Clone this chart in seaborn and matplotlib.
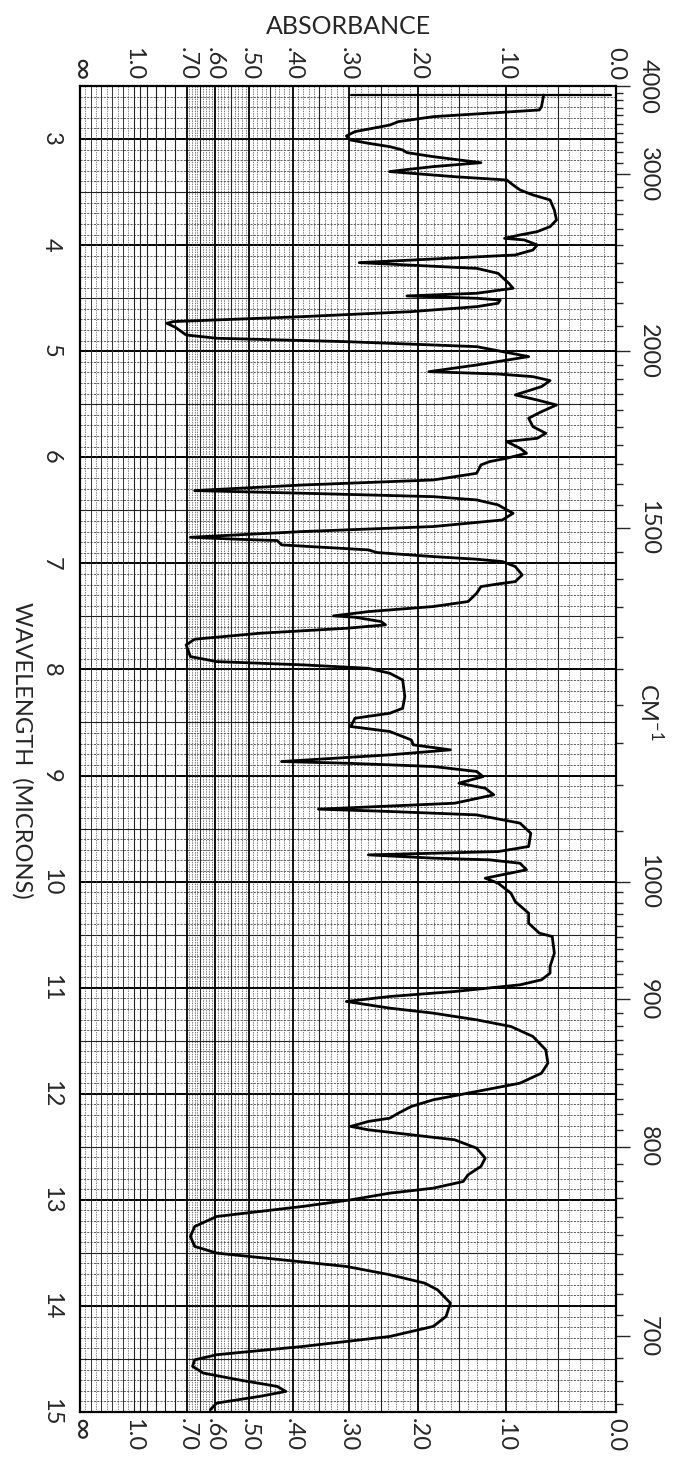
import numpy as np
import pandas as pd
import matplotlib
matplotlib.use("Agg")
import matplotlib.pyplot as plt
import seaborn as sns

# ---------------- data ----------------
wavelength_um = [
    2.585, 2.695, 2.726, 2.789, 2.836, 2.868, 2.899, 2.930, 2.971, 3.009,
    3.040, 3.072, 3.103, 3.128, 3.166, 3.197, 3.223, 3.260, 3.292, 3.307,
    3.323, 3.355, 3.386, 3.433, 3.480, 3.527, 3.574, 3.669, 3.763, 3.826,
    3.873, 3.904, 3.936, 3.951, 3.999, 4.046, 4.093, 4.165, 4.219, 4.266,
    4.360, 4.407, 4.454, 4.479, 4.501, 4.517, 4.548, 4.580, 4.627, 4.674,
    4.721, 4.737, 4.775, 4.847, 4.878, 4.910, 4.957, 5.051, 5.130, 5.193,
    5.215, 5.240, 5.277, 5.334, 5.412, 5.460, 5.507, 5.570, 5.632, 5.711,
    5.774, 5.821, 5.852, 5.915, 5.962, 6.009, 6.041, 6.072, 6.151, 6.214,
    6.261, 6.314, 6.339, 6.371, 6.402, 6.449, 6.528, 6.591, 6.653, 6.700,
    6.754, 6.773, 6.785, 6.826, 6.873, 6.898, 6.936, 6.961, 6.983, 7.030,
    7.109, 7.172, 7.194, 7.219, 7.282, 7.360, 7.407, 7.455, 7.495, 7.508,
    7.549, 7.580, 7.612, 7.659, 7.715, 7.769, 7.879, 7.926, 7.957, 7.989,
    8.036, 8.099, 8.256, 8.366, 8.413, 8.460, 8.538, 8.585, 8.664, 8.711,
    8.758, 8.805, 8.868, 8.884, 8.915, 8.962, 9.010, 9.072, 9.120, 9.182,
    9.261, 9.317, 9.339, 9.371, 9.449, 9.544, 9.669, 9.717, 9.748, 9.779,
    9.795, 9.827, 9.889, 9.968, 10.015, 10.109, 10.188, 10.298, 10.392, 10.486,
    10.518, 10.675, 10.800, 10.863, 10.926, 10.973, 11.036, 11.083, 11.130, 11.162,
    11.193, 11.240, 11.303, 11.366, 11.460, 11.586, 11.711, 11.806, 11.900, 11.979,
    12.057, 12.120, 12.183, 12.230, 12.261, 12.308, 12.340, 12.387, 12.434, 12.513,
    12.607, 12.685, 12.764, 12.827, 12.890, 12.937, 13.000, 13.062, 13.157, 13.251,
    13.345, 13.439, 13.502, 13.565, 13.628, 13.706, 13.785, 13.848, 13.973, 14.099,
    14.193, 14.288, 14.382, 14.460, 14.508, 14.570, 14.633, 14.696, 14.759, 14.806,
    14.853, 14.916, 14.979,
]
transmittance_pct = [
    86.5, 86.1, 85.7, 65.9, 59.4, 57.8, 54.6, 51.3, 49.7, 50.5,
    53.8, 57.8, 60.2, 61.0, 65.9, 70.7, 74.8, 65.9, 60.2, 57.8,
    61.8, 69.9, 79.6, 80.8, 82.1, 84.5, 87.7, 88.5, 88.9, 87.7,
    85.3, 82.1, 79.2, 82.9, 85.3, 84.5, 81.2, 52.1, 74.0, 78.0,
    80.0, 80.8, 74.0, 61.0, 74.0, 78.4, 78.0, 74.0, 61.8, 41.6,
    17.4, 16.2, 17.8, 19.8, 25.5, 49.7, 74.0, 83.7, 74.0, 65.1,
    78.0, 84.5, 87.7, 86.1, 81.2, 85.3, 88.9, 86.1, 83.7, 84.5,
    86.9, 85.3, 79.6, 82.1, 83.3, 79.6, 76.4, 74.8, 74.0, 65.9,
    41.6, 21.4, 41.6, 65.9, 74.0, 78.0, 80.8, 78.8, 65.9, 41.6,
    20.6, 29.5, 36.8, 37.6, 53.8, 55.4, 65.9, 74.0, 78.8, 81.2,
    82.5, 81.2, 78.0, 74.8, 74.0, 72.4, 65.9, 53.8, 47.3, 51.3,
    56.2, 57.0, 49.7, 33.5, 21.4, 19.8, 20.6, 25.5, 41.6, 53.8,
    57.8, 60.2, 60.6, 60.2, 57.8, 51.3, 50.5, 57.8, 61.8, 62.2,
    69.1, 57.8, 37.6, 49.7, 65.9, 74.0, 75.2, 70.7, 75.6, 77.2,
    69.9, 44.5, 57.8, 74.0, 82.1, 84.1, 83.7, 78.0, 53.8, 65.9,
    76.4, 82.1, 83.3, 75.6, 78.0, 80.4, 81.2, 83.7, 83.7, 85.7,
    88.1, 88.5, 87.7, 87.7, 86.1, 82.1, 69.9, 57.8, 49.7, 53.8,
    57.8, 65.9, 74.0, 80.4, 84.5, 86.9, 87.3, 86.1, 82.1, 74.0,
    65.9, 61.8, 59.4, 57.8, 53.8, 50.5, 53.8, 61.8, 69.9, 74.0,
    75.6, 74.8, 72.4, 71.5, 65.9, 57.8, 50.5, 41.6, 25.5, 21.4,
    20.6, 21.4, 25.5, 37.6, 49.7, 57.8, 64.3, 66.7, 69.1, 68.3,
    65.9, 57.8, 41.6, 25.5, 21.4, 21.0, 23.0, 29.5, 36.8, 38.4,
    33.5, 25.5, 24.3,
]
# recorder pen stroke at the start of the trace
pen_start_um = [2.585, 2.585]
pen_start_pct = [50.5, 99.0]

absorbance_tick_values = [np.inf, 1.0, 0.70, 0.60, 0.50, 0.40, 0.30, 0.20, 0.10, 0.0]
absorbance_tick_labels = ["\u221e", "1.0", ".70", ".60", ".50", ".40", ".30", ".20", ".10", "0.0"]
micron_ticks = list(range(3, 16))
wavenumber_ticks = [4000, 3000, 2000, 1500, 1000, 900, 800, 700]
wavenumber_minor = (list(range(3900, 2000, -100)) + list(range(1950, 1000, -50))
                    + list(range(990, 660, -10)))

# ---------------- style ----------------
sns.set_style("white")
plt.rcParams["font.family"] = ["Lato", "DejaVu Sans"]
FS = 17

fig = plt.figure(figsize=(6.79, 14.69), dpi=100)
ax = fig.add_axes([80 / 679, 1 - 1412 / 1469, 536 / 679, 1326 / 1469])
ax.set_xlim(0, 1)
ax.set_ylim(15, 2.5)

# ---- chart-paper grid: constant wavelength lines ----
for k in range(26, 150):
    lam = k / 10
    if k % 10 == 0:
        ax.axhline(lam, color="black", lw=1.4, zorder=1)
    elif k % 5 == 0:
        ax.axhline(lam, color="#222222", lw=0.8, zorder=1)
    else:
        ax.axhline(lam, color="#444444", lw=0.6, ls=(0, (2.5, 1.5)), zorder=1)

# ---- constant absorbance lines ----
A_lines = [i / 100 for i in range(1, 70)] + [0.70, 0.75, 0.80, 0.85, 0.90, 0.95, 1.0]
for A in A_lines:
    T = 10 ** (-A)
    a100 = int(round(A * 100))
    if a100 % 10 == 0 and A <= 0.7:
        ax.axvline(T, color="black", lw=1.3, zorder=1)
    elif a100 % 5 == 0:
        ax.axvline(T, color="#222222", lw=0.8, zorder=1)
    else:
        ax.axvline(T, color="#444444", lw=0.5, ls=(0, (2, 1.5)), zorder=1)
for T in [0.02, 0.04, 0.06, 0.08]:
    ax.axvline(T, color="#333333", lw=0.7, zorder=1)
for T in [0.01, 0.03, 0.05, 0.07, 0.09]:
    ax.axvline(T, color="#555555", lw=0.5, ls=(0, (2, 1.5)), zorder=1)

# ---- spectrum ----
df = pd.DataFrame({"wavelength": wavelength_um,
                   "T": np.array(transmittance_pct) / 100.0})
sns.lineplot(data=df, x="T", y="wavelength", sort=False, estimator=None,
             color="black", lw=2.0, ax=ax, zorder=3)
pen = pd.DataFrame({"wavelength": pen_start_um, "T": np.array(pen_start_pct) / 100.0})
sns.lineplot(data=pen, x="T", y="wavelength", sort=False, estimator=None,
             color="black", lw=1.6, ax=ax, zorder=3)
ax.set_xlabel("")
ax.set_ylabel("")

for s in ax.spines.values():
    s.set_color("black")
    s.set_linewidth(1.6)
    s.set_zorder(4)

# ---- absorbance tick labels, top and bottom ----
ax.set_xticks([10 ** (-a) if np.isfinite(a) else 0.0 for a in absorbance_tick_values])
ax.set_xticklabels(absorbance_tick_labels)
ax.tick_params(axis="x", length=0, labelsize=FS, labelrotation=270,
               top=False, bottom=False, labeltop=True, labelbottom=True, pad=4)
for lab in ax.get_xticklabels() + ax.xaxis.get_ticklabels(which="major"):
    if lab.get_text() == "\u221e":
        lab.set_fontsize(FS + 5)
for t in ax.xaxis.get_major_ticks():
    if t.label1.get_text() == "\u221e":
        t.label1.set_fontsize(FS + 5)
        t.label2.set_fontsize(FS + 5)

# ---- wavelength labels, left ----
ax.set_yticks(micron_ticks)
ax.set_yticklabels([str(m) for m in micron_ticks], rotation=270, va="center")
ax.tick_params(axis="y", length=0, labelsize=FS, left=False, right=False,
               labelleft=True, labelright=False, pad=13)


# ---- wavenumber scale, right ----
def lam_to_wn(x):
    x = np.asarray(x, dtype=float)
    with np.errstate(divide="ignore", invalid="ignore"):
        return 1e4 / x


sec = ax.secondary_yaxis("right", functions=(lam_to_wn, lam_to_wn))
sec.set_yticks(wavenumber_ticks)
sec.set_yticklabels([str(w) for w in wavenumber_ticks], rotation=270, va="center")
sec.set_yticks(wavenumber_minor, minor=True)
sec.tick_params(axis="y", which="major", direction="out", length=10, width=1.0,
                labelsize=FS, pad=6)
sec.tick_params(axis="y", which="minor", direction="out", length=5, width=1.0)
sec.spines["right"].set_visible(False)

# ---- titles ----
fig.text(348 / 679, 1 - 27 / 1469, "ABSORBANCE", ha="center", va="center", fontsize=FS + 1)
fig.text(22 / 679, 1 - 750 / 1469, "WAVELENGTH  (MICRONS)", ha="center", va="center",
         rotation=270, fontsize=FS)
ax.text(1.0 + 34 / 536, 8.4, "CM$^{\\mathregular{-1}}$", transform=ax.get_yaxis_transform(),
        ha="center", va="center", rotation=270, fontsize=FS)

fig.savefig("out.png", dpi=100, facecolor="white")
